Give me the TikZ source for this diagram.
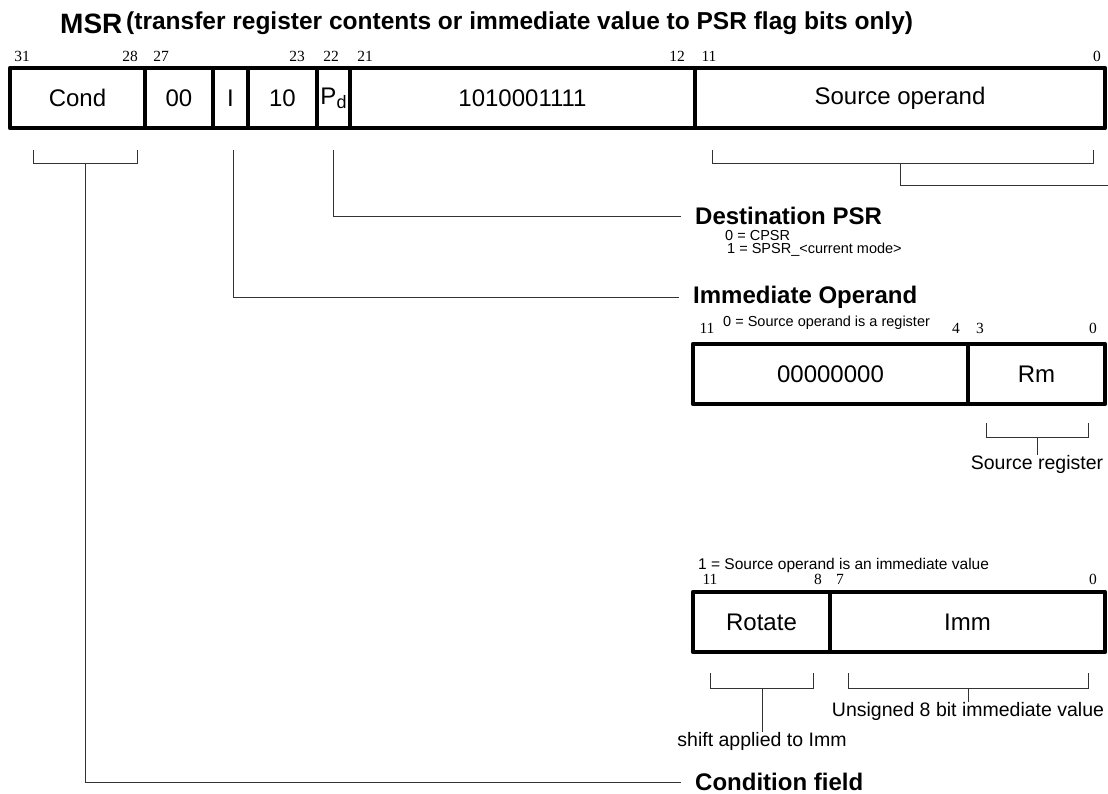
\documentclass[tikz,border=0pt]{standalone}
\usepackage{fontspec}
\setmainfont{Liberation Sans}
\newfontfamily\bitfont{Liberation Serif}
\begin{document}
\begin{tikzpicture}[x=1pt,y=-1pt,
  field/.style={draw, line width=4.3pt, line join=round, minimum height=60pt, inner sep=0pt, font=\fontsize{24}{27}\selectfont},
  bit/.style={anchor=base, inner sep=0pt, font=\bitfont\fontsize{15.5}{17}\selectfont},
  thin/.style={line width=0.9pt, draw=black!80},
  lbl/.style={inner sep=0pt, font=\fontsize{19.5}{22}\selectfont},
  head/.style={anchor=west, inner sep=0pt, font=\bfseries\fontsize{24}{27}\selectfont},
  small/.style={anchor=base west, inner sep=0pt, font=\fontsize{14.5}{16}\selectfont}]
\useasboundingbox (0,0) rectangle (1108,794);
% title
\node[anchor=base west, inner sep=0pt, font=\bfseries\fontsize{28}{32}\selectfont] (msr) at (60,34) {MSR};
\node[anchor=base west, inner sep=0pt, font=\bfseries\fontsize{24.5}{28}\selectfont] (ttl) at (126,30) {(transfer register contents or immediate value to PSR flag bits only)};
% main fields
\node[field, minimum width=135pt] (cond) at (77.5,98) {Cond};
\node[field, minimum width=68pt] (zz) at (179,98) {00};
\node[field, minimum width=35pt] (ibit) at (230.5,98) {I};
\node[field, minimum width=69pt] (ten) at (282.5,98) {10};
\node[field, minimum width=33pt] (pd) at (333.5,98) {P\raisebox{-0.3ex}{\fontsize{18}{20}\selectfont d}};
\node[field, minimum width=345pt] (ones) at (522.5,98) {1010001111};
\node[field, minimum width=410pt] (src) at (900,98) {Source operand};
% bit numbers
\node[bit] (b31) at (22,62) {31};
\node[bit] (b28) at (130,62) {28};
\node[bit] (b27) at (161,62) {27};
\node[bit] (b23) at (297,62) {23};
\node[bit] (b22) at (331,62) {22};
\node[bit] (b21) at (365,62) {21};
\node[bit] (b12) at (677,62) {12};
\node[bit] (b11) at (709,62) {11};
\node[bit] (b0) at (1097,62) {0};
% labels on right
\node[head] (dpsr) at (695,216) {Destination PSR};
\node[small] (d0) at (725,241) {0 = CPSR};
\node[small] (d1) at (727,254) {1 = SPSR\_<current mode>};
\node[head] (iop) at (693,297) {Immediate Operand};
\node[head, anchor=base west, text depth=0pt] (cfld) at (695,790) {Condition field};
% connectors
\coordinate (cs) at (85,163);
\coordinate (ce) at (681,782);
\draw[thin] (33,150) |- (137,163) -- (137,150);
\draw[thin] (cs) |- (ce);
\coordinate (is) at (233,150);
\draw[thin] (is) |- ([xshift=-14pt]iop.west);
\coordinate (ps) at (333,150);
\draw[thin] (ps) |- ([xshift=-14pt]dpsr.west);
\draw[thin] (712,150) |- (1093,163) -- (1093,150);
\coordinate (ss) at (900,163);
\coordinate (se) at (1108,185);
\draw[thin] (ss) |- (se);
% register form
\node[small] (r0) at (723,326) {0 = Source operand is a register};
\node[bit] (r11) at (707,334) {11};
\node[bit] (r4) at (956,334) {4};
\node[bit] (r3) at (980,334) {3};
\node[bit] (r0b) at (1093,334) {0};
\node[field, minimum width=275pt] (zeros) at (830.5,374) {00000000};
\node[field, minimum width=137pt] (rm) at (1036.5,374) {Rm};
\draw[thin] (986,423) |- (1088,437) -- (1088,423);
\coordinate (rs) at (1037,437);
\node[lbl, anchor=north] (srcreg) at (1037,455) {Source register};
\draw[thin] (rs) -- (srcreg.north);
% immediate form
\node[small, font=\fontsize{15.5}{17}\selectfont] (i1) at (698,569) {1 = Source operand is an immediate value};
\node[bit] (m11) at (710,584) {11};
\node[bit] (m8) at (818,584) {8};
\node[bit] (m7) at (840,584) {7};
\node[bit] (m0) at (1093,584) {0};
\node[field, minimum width=137pt] (rot) at (761.5,622) {Rotate};
\node[field, minimum width=275pt] (imm) at (967.5,622) {Imm};
\draw[thin] (710,673) |- (813,688) -- (813,673);
\draw[thin] (848,673) |- (1088,688) -- (1088,673);
\coordinate (rts) at (762,688);
\coordinate (ims) at (968,688);
\node[lbl, anchor=north] (shift) at (762,732) {shift applied to Imm};
\node[lbl, anchor=north] (uns) at (968,702) {Unsigned 8 bit immediate value};
\draw[thin] (rts) -- (shift.north);
\draw[thin] (ims) -- (uns.north);
\end{tikzpicture}
\end{document}
